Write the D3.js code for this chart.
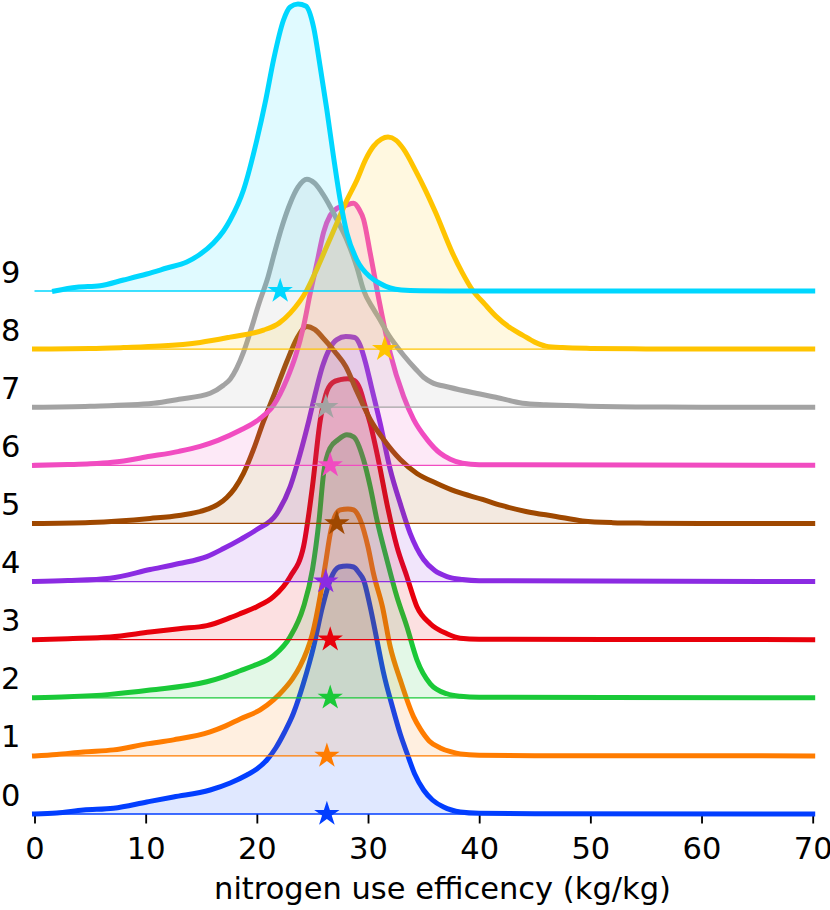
<!DOCTYPE html>
<meta charset="utf-8">
<script src="https://cdn.jsdelivr.net/npm/d3@7"></script>
<style>
  body { margin: 0; background: #fff; }
  text { font-family: "DejaVu Sans", sans-serif; }
</style>
<div id="chart"></div>
<script>

// ridge rows (bottom to top) and their colours
var rowLabels = ["0", "1", "2", "3", "4", "5", "6", "7", "8", "9"];
var colors = ["#023eff", "#ff7c00", "#1ac938", "#e8000b", "#8b2be2",
              "#9f4800", "#f14cc1", "#a3a3a3", "#ffc400", "#00d7ff"];
var xTicks = [0, 10, 20, 30, 40, 50, 60, 70];
var xLabel = "nitrogen use efficency (kg/kg)";

// median of each row (star markers)
var medians = [26.3, 26.3, 26.6, 26.6, 26.2, 27.2, 26.6, 26.2, 31.5, 22.1];

// density curves, [nue, density %]
var nue0 = [[0,0],[2,0.05],[4.4,0.2],[7.1,0.29],[10.1,0.6],[12.5,0.85],[15.8,1.2],[17.6,1.55],[19.1,1.95],[20,2.25],[20.9,2.7],[21.7,3.3],[22.5,4.1],[23.3,5.05],[24.2,6.55],[25.1,8.35],[25.9,10.35],[26.6,11.7],[27.4,12.35],[28.1,12.4],[28.7,12.35],[29.2,12.05],[29.6,11.7],[30.2,10.35],[30.8,8.7],[31.4,7.05],[32.2,5.35],[32.9,4.0],[33.5,3.05],[34.2,2.0],[35,1.2],[35.8,0.7],[36.8,0.35],[37.5,0.2],[38.3,0.1],[40,0.035],[45,0.01],[70,0]];
var nue1 = [[0,0],[2,0.075],[4.4,0.2],[7.1,0.3],[10.1,0.6],[12.5,0.8],[15.8,1.2],[17.2,1.5],[18.5,1.85],[20.3,2.3],[21.5,2.8],[22.4,3.3],[23.2,3.85],[23.9,4.5],[24.5,5.25],[25,6.1],[25.7,8.0],[26.2,9.7],[26.6,11.1],[27,11.95],[27.5,12.3],[28.2,12.35],[28.7,12.3],[29.3,11.8],[30,10.45],[30.5,9.1],[31.3,7.45],[32,5.45],[32.9,3.8],[34.1,1.95],[34.7,1.35],[35.5,0.75],[36.5,0.4],[37.5,0.2],[38.3,0.1],[40,0.035],[45,0.01],[70,0]];
var nue2 = [[0,0],[3,0.05],[6.8,0.17],[10.4,0.385],[15.5,0.8],[17,1.05],[18.5,1.35],[19.7,1.6],[21.5,2.1],[23,3.05],[24.2,4.55],[25,6.4],[25.6,8.9],[26,11.2],[26.6,12.5],[27.3,12.9],[28.1,13.15],[28.7,13.05],[29.6,11.9],[30.2,10.55],[30.8,8.9],[31.7,6.9],[32.6,5.05],[33.5,3.55],[34.4,1.9],[35.6,0.7],[37.1,0.2],[38.3,0.075],[40,0.025],[70,0]];
var nue3 = [[0,0],[3,0.05],[6.8,0.13],[10.4,0.38],[13,0.55],[15.5,0.7],[17.6,1.1],[18.5,1.3],[20,1.65],[21.5,2.15],[23,3.15],[24.2,4.65],[24.6,6.0],[25,7.65],[25.7,10.95],[26.2,12.25],[26.8,12.85],[27.5,13.0],[28.2,13.05],[28.8,12.95],[29.3,12.5],[29.7,11.75],[30.2,10.8],[31,8.8],[31.7,6.8],[32.6,4.65],[33.5,3.15],[34.4,1.65],[35.6,0.8],[37.1,0.3],[38.3,0.075],[40,0.025],[70,0]];
var nue4 = [[0,0],[3,0.05],[6.8,0.17],[10.4,0.6],[13,0.9],[15.5,1.25],[17,1.65],[18.5,2.1],[20,2.6],[21.8,3.4],[23,4.75],[23.9,6.4],[24.7,8.1],[25.3,9.5],[25.9,10.75],[26.5,11.6],[27.2,12.1],[28,12.25],[28.8,12.2],[29.3,11.8],[29.8,10.9],[30.3,9.75],[31.1,7.9],[32,5.6],[32.9,3.9],[33.8,2.4],[35,1.1],[36,0.55],[37.1,0.25],[38.5,0.1],[40,0.04],[70,0]];
var nue5 = [[0,0],[5,0.05],[10.4,0.25],[13,0.4],[15.5,0.7],[16.5,0.95],[17.3,1.3],[18,1.75],[18.8,2.5],[19.7,3.7],[20.6,5.1],[21.6,6.5],[22.7,8.1],[23.6,9.25],[24.5,9.85],[25.2,9.7],[26,9.25],[27,8.6],[28,7.85],[29,6.6],[30.2,5.2],[31.4,4.2],[32.9,3.2],[34.4,2.5],[36.2,2.0],[37.9,1.6],[40.3,1.2],[42,0.9],[44.2,0.6],[46.9,0.35],[49.3,0.125],[52,0.04],[55,0.015],[60,0],[70,0]];
var nue6 = [[0,0],[3,0.04],[5,0.075],[7,0.15],[10.4,0.45],[13,0.7],[14.9,0.95],[16.5,1.25],[18.5,1.75],[20.3,2.35],[21.5,3.0],[22.7,4.3],[23.5,5.5],[24.2,6.95],[24.8,8.6],[25.4,10.1],[26,11.65],[26.6,12.5],[27.2,12.85],[28,13.0],[28.7,13.1],[29.2,12.8],[29.6,12.3],[30.2,10.6],[31.1,7.95],[32,5.6],[33.2,3.45],[34.1,2.3],[35.3,1.3],[36.5,0.6],[37.4,0.3],[38.5,0.1],[40,0.035],[70,0]];
var nue7 = [[0,0],[5,0.05],[10.7,0.2],[13,0.4],[15.8,0.7],[17,1.1],[17.6,1.4],[18.8,2.75],[19.4,3.75],[20.2,5.2],[21,6.5],[21.6,7.75],[22.3,9.1],[23,10.2],[23.7,11.0],[24.5,11.4],[25.2,11.2],[26,10.6],[27,9.6],[27.5,9.05],[28.1,8.35],[29,7.0],[29.6,5.85],[30.5,4.9],[31.1,4.35],[31.7,3.75],[32.5,3.1],[33.2,2.6],[34.3,1.9],[35,1.5],[35.7,1.25],[37.3,1.0],[39.7,0.7],[41.5,0.5],[43.9,0.2],[46,0.125],[49.3,0.065],[55,0.015],[60,0],[70,0]];
var nue8 = [[0,0],[5,0.025],[8,0.075],[11.3,0.15],[14.9,0.335],[17.6,0.6],[20.6,0.95],[22,1.3],[23,1.8],[24.5,2.95],[25.4,4.0],[26.3,5.15],[27.2,6.3],[28.1,7.45],[29,8.45],[29.8,9.5],[30.5,10.15],[31.2,10.5],[31.8,10.6],[32.5,10.45],[33.2,10.0],[34.3,8.9],[35.2,7.9],[36.1,6.8],[37.6,4.8],[38.5,3.8],[39.4,2.95],[40.5,2.25],[41.5,1.65],[42.7,1.1],[43.9,0.7],[45,0.35],[46,0.15],[47.5,0.075],[50,0.035],[55,0.01],[70,0]];
var nue9 = [[1.8,0],[3.8,0.185],[5.9,0.265],[8,0.55],[10.1,0.85],[11.9,1.15],[13.7,1.45],[14.8,1.8],[16.1,2.4],[17,3.0],[17.6,3.55],[18.8,5.05],[20,7.55],[20.8,9.55],[21.5,11.55],[22.4,13.55],[23,14.2],[23.7,14.35],[24.4,14.25],[25.1,13.2],[25.7,11.2],[26.3,9.05],[26.9,6.7],[27.5,4.55],[28.1,2.9],[29,1.55],[30.2,0.7],[31,0.4],[32,0.15],[33,0.05],[34.7,0.015],[40,0],[70,0]];

var curves = [nue0, nue1, nue2, nue3, nue4, nue5, nue6, nue7, nue8, nue9];

var width = 830, height = 910;
var fontSize = "30.5px";

var svg = d3.select("#chart")
  .append("svg")
    .attr("width", width)
    .attr("height", height);

svg.append("rect")
    .attr("width", width)
    .attr("height", height)
    .attr("fill", "#fff");

// scales
var x = d3.scaleLinear()
  .domain([0, 70])
  .range([34.5, 812.7]);

// baseline of each row
var yRow = d3.scaleLinear()
  .domain([0, 9])
  .range([814, 291]);

// density height (px above the row baseline)
var h = d3.scaleLinear()
  .domain([0, 15])
  .range([0, 300]);

// x axis
var xAxis = svg.append("g")
  .attr("transform", "translate(0," + yRow(0) + ")")
  .call(d3.axisBottom(x).tickValues(xTicks).tickSize(9.5).tickFormat(d3.format("d")));
xAxis.select(".domain").remove();
xAxis.selectAll(".tick line")
  .attr("stroke", "#000")
  .attr("stroke-width", 1.85);
xAxis.selectAll(".tick text")
  .attr("y", 45)
  .attr("dy", null)
  .attr("fill", "#000")
  .style("font-size", fontSize);

svg.append("text")
  .attr("x", 442.5)
  .attr("y", 899)
  .attr("text-anchor", "middle")
  .style("font-size", fontSize)
  .text(xLabel);

// one ridge per row, bottom row first so upper rows sit on top
curves.forEach(function(data, i) {
  var base = yRow(i);

  var area = d3.area()
    .curve(d3.curveMonotoneX)
    .x(function(d) { return x(d[0]); })
    .y0(base)
    .y1(function(d) { return base - h(d[1]); });

  var line = d3.line()
    .curve(d3.curveMonotoneX)
    .x(function(d) { return x(d[0]); })
    .y(function(d) { return base - h(d[1]); });

  svg.append("path")
    .datum(data)
    .attr("fill", colors[i])
    .attr("fill-opacity", 0.12)
    .attr("d", area);

  svg.append("path")
    .datum(data)
    .attr("fill", "none")
    .attr("stroke", colors[i])
    .attr("stroke-width", 5)
    .attr("stroke-linejoin", "round")
    .attr("stroke-linecap", "square")
    .attr("d", line);

  svg.append("line")
    .attr("x1", x(0))
    .attr("x2", x(70))
    .attr("y1", base)
    .attr("y2", base)
    .attr("stroke", colors[i])
    .attr("stroke-width", 1.3);

  svg.append("path")
    .attr("d", d3.symbol().type(d3.symbolStar).size(200)())
    .attr("transform", "translate(" + x(medians[i]) + "," + base + ")")
    .attr("fill", colors[i]);

  svg.append("text")
    .attr("x", 1)
    .attr("y", base - 8.5)
    .style("font-size", fontSize)
    .attr("fill", "#000")
    .text(rowLabels[i]);
});

</script>
